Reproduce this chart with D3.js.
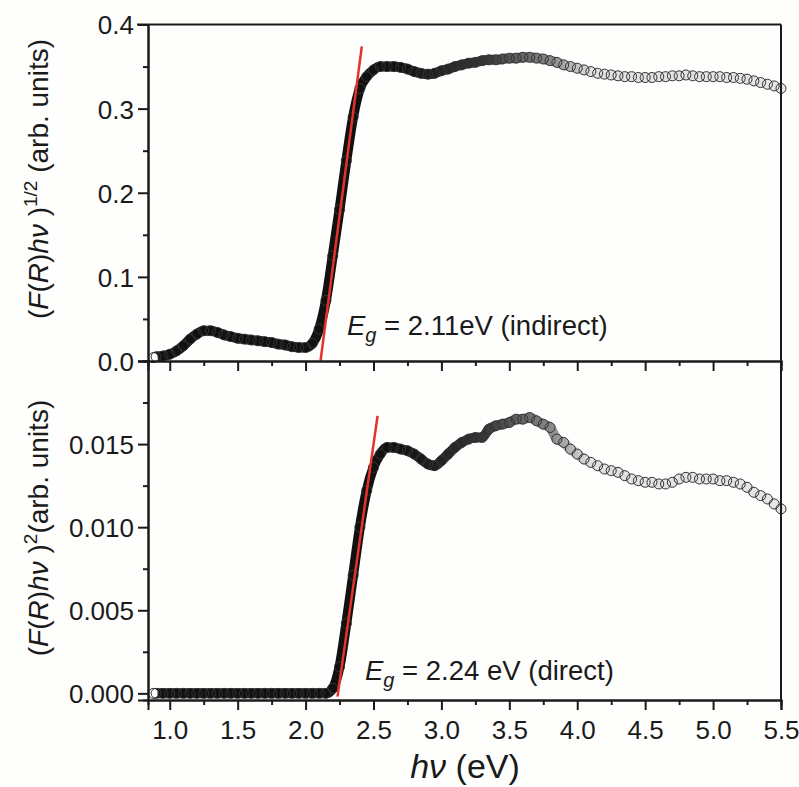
<!DOCTYPE html>
<html>
<head>
<meta charset="utf-8">
<script src="https://cdn.jsdelivr.net/npm/d3@7"></script>
<style>
  body { margin: 0; background: #fefefc; }
  svg { display: block; font-family: "Liberation Sans", Arial, sans-serif; }
  .axis path, .axis line { stroke: #1a1a1a; stroke-width: 2; }
  .axis text { fill: #1a1a1a; font-size: 26px; font-family: "Liberation Sans", Arial, sans-serif; }
</style>
</head>
<body>
<svg width="799" height="787"></svg>
<script>
// photon energy (eV), shared by both spectra
var energy = [0.88, 0.90, 0.95, 1.00, 1.05, 1.10, 1.15, 1.20, 1.25, 1.30, 1.35, 1.40, 1.45, 1.50,
    1.55, 1.60, 1.65, 1.70, 1.75, 1.80, 1.85, 1.90, 1.95, 2.00, 2.05, 2.10, 2.15, 2.20, 2.25,
    2.30, 2.35, 2.40, 2.45, 2.50, 2.55, 2.60, 2.65, 2.70, 2.75, 2.80, 2.85, 2.90, 2.95, 3.00,
    3.05, 3.10, 3.15, 3.20, 3.25, 3.30, 3.35, 3.40, 3.45, 3.50, 3.55, 3.60, 3.65, 3.70, 3.75,
    3.80, 3.85, 3.90, 3.95, 4.00, 4.05, 4.10, 4.15, 4.20, 4.25, 4.30, 4.35, 4.40, 4.45, 4.50,
    4.55, 4.60, 4.65, 4.70, 4.75, 4.80, 4.85, 4.90, 4.95, 5.00, 5.05, 5.10, 5.15, 5.20, 5.25,
    5.30, 5.35, 5.40, 5.45, 5.50];

// (F(R)hv)^1/2, indirect
var indirect = [0.004, 0.005, 0.006, 0.008, 0.012, 0.018, 0.026, 0.032, 0.036, 0.036, 0.034, 0.031,
    0.029, 0.027, 0.026, 0.025, 0.024, 0.023, 0.022, 0.020, 0.019, 0.017, 0.016, 0.016, 0.021,
    0.038, 0.072, 0.125, 0.180, 0.238, 0.290, 0.324, 0.338, 0.346, 0.350, 0.350, 0.350, 0.349,
    0.347, 0.344, 0.342, 0.341, 0.342, 0.345, 0.347, 0.350, 0.352, 0.354, 0.355, 0.357, 0.358,
    0.358, 0.359, 0.360, 0.360, 0.361, 0.361, 0.360, 0.359, 0.357, 0.355, 0.352, 0.350, 0.348,
    0.346, 0.344, 0.342, 0.341, 0.340, 0.339, 0.338, 0.338, 0.337, 0.337, 0.337, 0.338, 0.338,
    0.339, 0.339, 0.340, 0.339, 0.338, 0.338, 0.338, 0.338, 0.337, 0.337, 0.336, 0.335, 0.333,
    0.331, 0.329, 0.327, 0.324];

// (F(R)hv)^2, direct
var direct = [0, 0, 0, 0, 0, 0, 0, 0, 0, 0, 0, 0, 0, 0, 0, 0, 0, 0, 0, 0, 0, 0, 0, 0, 0, 0, 0,
    0.0003, 0.0016, 0.0042, 0.0071, 0.0100, 0.0122, 0.0136, 0.0144, 0.0148, 0.0148, 0.0147,
    0.0146, 0.0144, 0.0141, 0.0138, 0.0137, 0.0140, 0.0144, 0.0148, 0.0151, 0.0153, 0.0154,
    0.0154, 0.0159, 0.0161, 0.0162, 0.0163, 0.0165, 0.0165, 0.0166, 0.0164, 0.0162, 0.0160,
    0.0153, 0.0151, 0.0147, 0.0144, 0.0141, 0.0139, 0.0137, 0.0135, 0.0134, 0.0133, 0.0131,
    0.0129, 0.0128, 0.0127, 0.0127, 0.0126, 0.0126, 0.0127, 0.0129, 0.0130, 0.0130, 0.0129,
    0.0129, 0.0129, 0.0128, 0.0128, 0.0127, 0.0126, 0.0124, 0.0121, 0.0119, 0.0117, 0.0114,
    0.0111];

// Tauc fit lines (end points)
var fitIndirectX = [2.11, 2.414], fitIndirectY = [0, 0.374];
var fitDirectX = [2.235, 2.53], fitDirectY = [-0.0002, 0.0167];

var xMajor = [1.0, 1.5, 2.0, 2.5, 3.0, 3.5, 4.0, 4.5, 5.0, 5.5];
var xMinor = [1.25, 1.75, 2.25, 2.75, 3.25, 3.75, 4.25, 4.75, 5.25];
var topMajor = [0, 0.1, 0.2, 0.3, 0.4];
var topMinor = [0.05, 0.15, 0.25, 0.35];
var botMajor = [0, 0.005, 0.010, 0.015];
var botMinor = [0.0025, 0.0075, 0.0125, 0.0175];

var svg = d3.select("svg"),
    padLeft = 148, padRight = 781, padTop = 24.5, padMid = 361, padBottom = 700;

var x = d3.scaleLinear().domain([0.84, 5.5]).range([padLeft, padRight]);
var yTop = d3.scaleLinear().domain([0, 0.4]).range([padMid, padTop]);
var yBot = d3.scaleLinear().domain([-0.0004, 0.02]).range([padBottom, padMid]);

// band fading out where the markers get sparse
var defs = svg.append("defs");
var grad = defs.append("linearGradient")
    .attr("id", "band")
    .attr("gradientUnits", "userSpaceOnUse")
    .attr("x1", x(0.84)).attr("x2", x(5.5)).attr("y1", 0).attr("y2", 0);
[[0.84, 1], [2.7, 1], [3.3, 0.85], [3.8, 0.5], [4.1, 0.12], [5.5, 0.1]].forEach(function(s) {
    grad.append("stop")
        .attr("offset", (x(s[0]) - x(0.84)) / (x(5.5) - x(0.84)))
        .attr("stop-color", "#111")
        .attr("stop-opacity", s[1]);
});

function drawSeries(values, y) {
    var pts = energy.map(function(e, i) { return [e, values[i]]; });
    var line = d3.line()
        .x(function(d) { return x(d[0]); })
        .y(function(d) { return y(d[1]); })
        .curve(d3.curveMonotoneX);

    svg.append("path")
        .attr("d", line(pts))
        .attr("fill", "none")
        .attr("stroke", "url(#band)")
        .attr("stroke-width", 10)
        .attr("stroke-linecap", "round");

    svg.append("g").selectAll("circle").data(pts).enter().append("circle")
        .attr("cx", function(d) { return x(d[0]); })
        .attr("cy", function(d) { return y(d[1]); })
        .attr("r", 5)
        .attr("fill", function(d, i) { return i == 0 ? "#fff" : "none"; })
        .attr("stroke", "#333")
        .attr("stroke-width", 1);
}

function drawFit(xs, ys, y) {
    svg.append("line")
        .attr("x1", x(xs[0])).attr("y1", y(ys[0]))
        .attr("x2", x(xs[1])).attr("y2", y(ys[1]))
        .attr("stroke", "#e5332a")
        .attr("stroke-width", 2.5);
}

drawSeries(indirect, yTop);
drawSeries(direct, yBot);
drawFit(fitIndirectX, fitIndirectY, yTop);
drawFit(fitDirectX, fitDirectY, yBot);

// axes
function axisPair(axisFn, scale, major, minor, pos, fmt, labels) {
    var g = svg.append("g").attr("class", "axis").attr("transform", pos);
    g.call(axisFn(scale).tickValues(minor).tickSize(5).tickFormat(""));
    var gm = svg.append("g").attr("class", "axis").attr("transform", pos);
    gm.call(axisFn(scale).tickValues(major).tickSize(10).tickPadding(4)
        .tickFormat(labels ? d3.format(fmt) : ""));
    return gm;
}

axisPair(d3.axisLeft, yTop, topMajor, topMinor, "translate(" + padLeft + ",0)", ".1f", true)
    .selectAll("text").attr("dy", "0.36em");
axisPair(d3.axisLeft, yBot, botMajor, botMinor, "translate(" + padLeft + ",0)", ".3f", true)
    .selectAll("text").attr("dy", "0.36em");
axisPair(d3.axisBottom, x, xMajor, xMinor, "translate(0," + padMid + ")", ".1f", false);
axisPair(d3.axisBottom, x, xMajor, xMinor, "translate(0," + padBottom + ")", ".1f", true)
    .selectAll("text").attr("dy", "0.95em");

// frame
svg.append("line").attr("x1", padLeft - 11).attr("x2", padRight).attr("y1", padTop).attr("y2", padTop)
    .attr("stroke", "#1a1a1a").attr("stroke-width", 2);
svg.append("line").attr("x1", padRight).attr("x2", padRight).attr("y1", padTop).attr("y2", padBottom)
    .attr("stroke", "#1a1a1a").attr("stroke-width", 2);

// axis titles
function yTitle(cx, cy, sup, gap) {
    var t = svg.append("text")
        .attr("transform", "translate(" + cx + "," + cy + ") rotate(-90)")
        .attr("text-anchor", "middle")
        .attr("font-size", 28)
        .attr("fill", "#1a1a1a");
    t.append("tspan").text("(");
    t.append("tspan").attr("font-style", "italic").text("F");
    t.append("tspan").text("(");
    t.append("tspan").attr("font-style", "italic").text("R");
    t.append("tspan").text(")");
    t.append("tspan").attr("font-style", "italic").text("hν");
    t.append("tspan").text(" )");
    t.append("tspan").attr("font-size", 19).attr("dy", -11).text(sup);
    t.append("tspan").attr("dy", 11).text(gap + "(arb. units)");
}
yTitle(48, 179, "1/2", " ");
yTitle(48, 528, "2", "");

var xt = svg.append("text")
    .attr("x", 465).attr("y", 778)
    .attr("text-anchor", "middle")
    .attr("font-size", 34)
    .attr("fill", "#1a1a1a");
xt.append("tspan").attr("font-style", "italic").text("hν");
xt.append("tspan").text(" (eV)");

// band gap labels
function gapLabel(px, py, txt) {
    var t = svg.append("text")
        .attr("x", px).attr("y", py)
        .attr("font-size", 27.5)
        .attr("fill", "#1a1a1a");
    t.append("tspan").attr("font-style", "italic").text("E");
    t.append("tspan").attr("font-style", "italic").attr("font-size", 20).attr("dy", 7).text("g");
    t.append("tspan").attr("dy", -7).text(txt);
}
gapLabel(347, 335, " = 2.11eV (indirect)");
gapLabel(365, 680, " = 2.24 eV (direct)");
</script>
</body>
</html>
